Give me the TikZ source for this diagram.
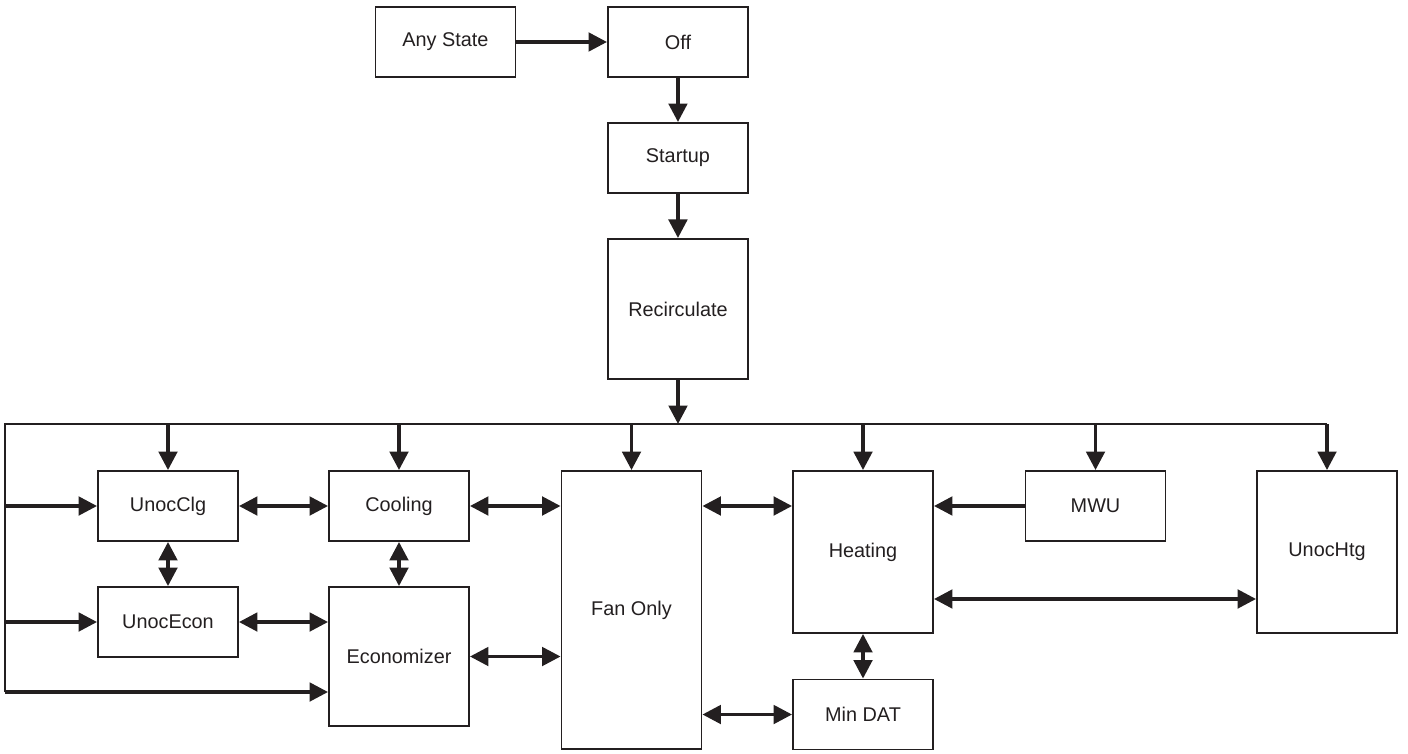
\documentclass[tikz,border=0pt]{standalone}
\usepackage{fontspec}
\setmainfont{Liberation Sans}
\usetikzlibrary{arrows.meta,positioning}
\definecolor{ink}{RGB}{35,31,32}
\begin{document}
\begin{tikzpicture}[x=0.02cm, y=-0.02cm, node distance=2.32cm, color=ink,
  box/.style={draw, line width=1.1pt, minimum width=2.8cm, minimum height=1.4cm, inner sep=0pt, font=\fontsize{11.3}{13}\selectfont},
  arr/.style={-{Triangle[length=0.37cm, width=0.37cm]}, line width=2pt},
  both/.style={{Triangle[length=0.37cm, width=0.37cm]}-{Triangle[length=0.37cm, width=0.37cm]}, line width=2pt}]
  \useasboundingbox (0,0) rectangle (1408,753);
  \node[box](any) at (445.5,42) {Any State};
  \node[box](off)[right of=any, node distance=4.65cm] {Off};
  \node[box](startup)[below of=off] {Startup};
  \node[box, minimum height=2.8cm](recirc)[below of=startup, node distance=3.02cm] {Recirculate};
  \node[box](unocclg) at (168,506) {UnocClg};
  \node[box](unocecon) at (168,622) {UnocEcon};
  \node[box](cooling) at (399,506) {Cooling};
  \node[box, minimum height=2.78cm](econ) at (399,656.5) {Economizer};
  \node[box, minimum height=5.56cm](fan) at (631.5,610) {Fan Only};
  \node[box, minimum height=3.24cm](heating) at (863,552) {Heating};
  \node[box](mwu) at (1095.5,506) {MWU};
  \node[box, minimum height=3.24cm](unochtg) at (1327,552) {UnocHtg};
  \node[box](mindat) at (863,714.5) {Min DAT};
  \coordinate (bus) at (678,424);
  \coordinate (busl) at (5,424);
  \coordinate (busr) at (unochtg.north |- bus);
  \coordinate (left) at (5,692);
  \coordinate (htg) at ([yshift=-0.94cm]heating.east);
  \draw[line width=1.5pt] (left) -- (busl) -- (busr);
  \draw[arr] (any) -- (off);
  \draw[arr] (off) -- (startup);
  \draw[arr] (startup) -- (recirc);
  \draw[arr] (recirc) -- (bus);
  \foreach \n in {unocclg, cooling, fan, heating, mwu, unochtg}
    \draw[arr] (\n.north |- bus) -- (\n.north);
  \draw[arr] (busl |- unocclg) -- (unocclg);
  \draw[arr] (busl |- unocecon) -- (unocecon);
  \draw[arr] (left) -- (left -| econ.west);
  \draw[both] (unocclg) -- (cooling);
  \draw[both] (unocclg) -- (unocecon);
  \draw[both] (cooling) -- (econ);
  \draw[both] (unocecon) -- (unocecon -| econ.west);
  \draw[both] (cooling) -- (cooling -| fan.west);
  \draw[both] (econ) -- (econ -| fan.west);
  \draw[both] (fan.east |- mwu) -- (heating.west |- mwu);
  \draw[both] (fan.east |- mindat) -- (mindat);
  \draw[both] (heating) -- (mindat);
  \draw[both] (htg) -- (htg -| unochtg.west);
  \draw[arr] (mwu) -- (heating.east |- mwu);
\end{tikzpicture}
\end{document}
